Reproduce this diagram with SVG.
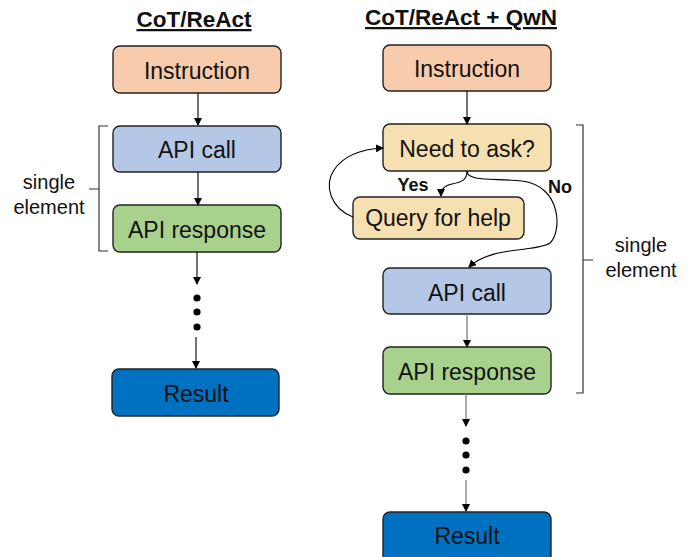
<svg xmlns="http://www.w3.org/2000/svg" width="696" height="557" viewBox="0 0 696 557">
<defs>
<marker id="ah" markerWidth="8" markerHeight="8" refX="7" refY="4" orient="auto" markerUnits="userSpaceOnUse">
<path d="M0,0 L8,4 L0,8 Z" fill="#000"/>
</marker>
<marker id="ahg" markerWidth="8" markerHeight="8" refX="7" refY="4" orient="auto" markerUnits="userSpaceOnUse">
<path d="M0,0 L8,4 L0,8 Z" fill="#000"/>
</marker>
<style>
.box{stroke:#222;stroke-width:1.4}
.lbl{font-family:"Liberation Sans",Arial,sans-serif;font-size:23px;fill:#111;text-anchor:middle}
.title{font-family:"Liberation Sans",Arial,sans-serif;font-size:22.5px;font-weight:bold;fill:#111;text-anchor:middle;text-decoration:underline}
.side{font-family:"Liberation Sans",Arial,sans-serif;font-size:20px;fill:#111;text-anchor:middle}
.yn{font-family:"Liberation Sans",Arial,sans-serif;font-size:18px;font-weight:bold;fill:#111;text-anchor:middle}
.c{fill:none;stroke:#000;stroke-width:1.1}
.cg{fill:none;stroke:#888;stroke-width:1.4}
.br{fill:none;stroke:#333;stroke-width:1.2}
.instr{fill:#f8cbad}.call{fill:#b4c7e7}.resp{fill:#a9d18e}.res{fill:#0070c0}.ask{fill:#f6dfb0}
</style>
</defs>
<text class="title" x="194" y="27">CoT/ReAct</text>
<text class="title" x="461" y="25">CoT/ReAct + QwN</text>

<g id="L_instruction"><rect class="box instr" x="113" y="46" width="168" height="47" rx="7"/><text class="lbl" x="197" y="79">Instruction</text></g>
<g id="L_apicall"><rect class="box call" x="113" y="126" width="168" height="46" rx="7"/><text class="lbl" x="197" y="158">API call</text></g>
<g id="L_apiresp"><rect class="box resp" x="113" y="205" width="168" height="47" rx="7"/><text class="lbl" x="197" y="238">API response</text></g>
<g id="L_result"><rect class="box res" x="112" y="369" width="167" height="47" rx="7"/><text class="lbl" x="196" y="402">Result</text></g>
<g id="L_bracket"><path class="br" d="M108,126 H99 V251 H108 M99,189 H89"/><text class="side" x="49" y="189">single</text><text class="side" x="49" y="214">element</text></g>
<g id="L_dots"><circle cx="197" cy="298" r="3.6"/><circle cx="197" cy="312" r="3.6"/><circle cx="197" cy="327" r="3.6"/></g>

<g id="R_instruction"><rect class="box instr" x="383" y="45" width="168" height="46" rx="7"/><text class="lbl" x="467" y="77">Instruction</text></g>
<g id="R_ask"><rect class="box ask" x="383" y="124" width="168" height="47" rx="7"/><text class="lbl" x="467" y="157">Need to ask?</text></g>
<g id="R_query"><rect class="box ask" x="353" y="197" width="171" height="42" rx="7"/><text class="lbl" x="438" y="226">Query for help</text></g>
<g id="R_apicall"><rect class="box call" x="383" y="268" width="168" height="46" rx="7"/><text class="lbl" x="467" y="301">API call</text></g>
<g id="R_apiresp"><rect class="box resp" x="383" y="347" width="168" height="47" rx="7"/><text class="lbl" x="467" y="380">API response</text></g>
<g id="R_result"><rect class="box res" x="383" y="512" width="168" height="50" rx="7"/><text class="lbl" x="467" y="544">Result</text></g>
<g id="R_bracket"><path class="br" d="M576,125 H583 V393 H576 M583,260 H593"/><text class="side" x="641" y="252">single</text><text class="side" x="641" y="277">element</text></g>
<g id="R_dots"><circle cx="466" cy="441" r="3.6"/><circle cx="466" cy="455" r="3.6"/><circle cx="466" cy="470" r="3.6"/></g>
<text class="yn" x="413" y="191">Yes</text>
<text class="yn" x="560" y="193">No</text>

<g id="connectors">
<path class="c" d="M198,93 V125" marker-end="url(#ah)"/>
<path class="c" d="M198,172 V205" marker-end="url(#ah)"/>
<path class="c" d="M197,252 V284" marker-end="url(#ah)"/>
<path class="c" d="M196,337 V368" marker-end="url(#ah)"/>
<path class="c" d="M467,91 V124" marker-end="url(#ah)"/>
<path class="c" d="M467,171 C467,180 462,182 452,184 C444,186 441,189 441,196" marker-end="url(#ah)"/>
<path class="c" d="M467,171 C467,182 495,178 522,181 C562,186 562,232 550,243 C538,252 490,246 469,267" marker-end="url(#ah)"/>
<path class="c" d="M353,217 C330,208 324,185 334,170 C344,155 364,149 383,148" marker-end="url(#ah)"/>
<path class="cg" d="M467,314 V347" marker-end="url(#ahg)"/>
<path class="cg" d="M466,394 V426" marker-end="url(#ahg)"/>
<path class="cg" d="M466,480 V511" marker-end="url(#ahg)"/>
</g>
</svg>
